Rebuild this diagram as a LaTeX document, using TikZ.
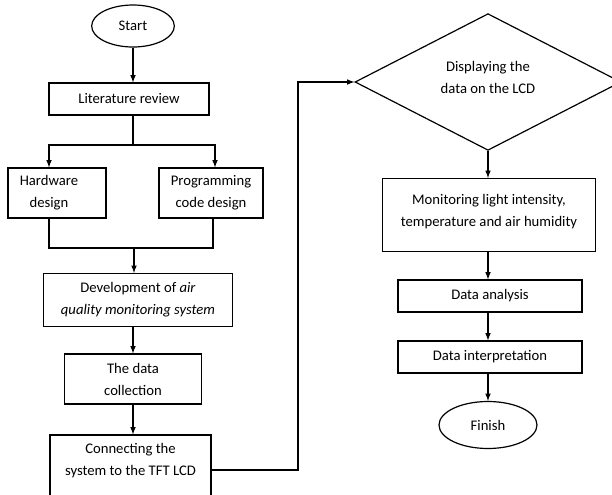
\documentclass[tikz,border=0pt]{standalone}
\usepackage{fontspec}
\setmainfont{Carlito}
\usetikzlibrary{shapes.geometric}

\tikzset{
    procbox/.style={draw, rectangle, align=center, inner sep=0pt, font=\fontsize{11}{16.5}\selectfont},
    termnode/.style={draw, ellipse, inner sep=0pt, font=\fontsize{11}{16.5}\selectfont},
    decnode/.style={draw, diamond, align=center, inner sep=0pt, font=\fontsize{11}{16.5}\selectfont}
}

\begin{document}
\begin{tikzpicture}[x=0.75pt,y=-0.75pt,>=latex,line width=0.9pt]
        \useasboundingbox (0,0) rectangle (612,494);
        \clip (0,0) rectangle (612,494);

        % left column
        \draw (133,26) node[termnode, minimum width=62pt, minimum height=31.5pt] (start) {Start};
        \draw (129,99) node[procbox, minimum width=120pt, minimum height=24pt] (lit) {Literature review};
        \draw (57,193) node[procbox, minimum width=73.5pt, minimum height=37.5pt] (hw) {\hspace*{-12pt}Hardware\\\hspace*{-12pt}design};
        \draw (211,193) node[procbox, minimum width=78pt, minimum height=37.5pt] (prog) {Programming\\code design};
        \draw (138,300) node[procbox, minimum width=141.75pt, minimum height=39.75pt] (dev) {Development of \textit{air}\\\textit{quality monitoring system}};
        \draw (133,379) node[procbox, minimum width=102.75pt, minimum height=37.5pt] (coll) {The data\\collection};
        \draw (130.5,470) node[procbox, minimum width=120.75pt, minimum height=52.5pt] (conn) {Connecting the\\system to the TFT LCD\\\mbox{}};

        % right column
        \draw (488,82) node[decnode, minimum width=199.5pt, minimum height=99.75pt] (disp) {Displaying the\\data on the LCD\\[-9pt]\mbox{}};
        \draw (489,215) node[procbox, minimum width=159.75pt, minimum height=54.75pt] (mon) {Monitoring light intensity,\\temperature and air humidity\\[-9pt]\mbox{}};
        \draw (490,296) node[procbox, minimum width=138pt, minimum height=24pt] (ana) {Data analysis};
        \draw (490,357) node[procbox, minimum width=138pt, minimum height=24pt] (intp) {Data interpretation};
        \draw (488,425) node[termnode, minimum width=73.5pt, minimum height=35.25pt] (fin) {Finish};

        \coordinate (split) at (133,145);
        \coordinate (merge) at (134,248);
        \coordinate (turn) at (298,300);

        \draw[->] (start.south) -- (start.south |- lit.north);
        \draw (split |- lit.south) -- (split);
        \draw[->] (split) -| ([xshift=-6pt]hw.north);
        \draw[->] (split) -| ([xshift=3pt]prog.north);
        \draw ([xshift=-6pt]hw.south) |- (merge);
        \draw ([xshift=1.5pt]prog.south) |- (merge);
        \draw[->] (merge) -- (merge |- dev.north);
        \draw[->] (coll.north |- dev.south) -- (coll.north);
        \draw[->] (coll.south) -- (coll.south |- conn.north);
        \draw[->] (conn.east) -| (turn) |- (disp.west);

        \draw[->] (disp.south) -- (disp.south |- mon.north);
        \draw[->] (disp.south |- mon.south) -- (disp.south |- ana.north);
        \draw[->] (disp.south |- ana.south) -- (disp.south |- intp.north);
        \draw[->] (disp.south |- intp.south) -- (fin.north);
\end{tikzpicture}
\end{document}
